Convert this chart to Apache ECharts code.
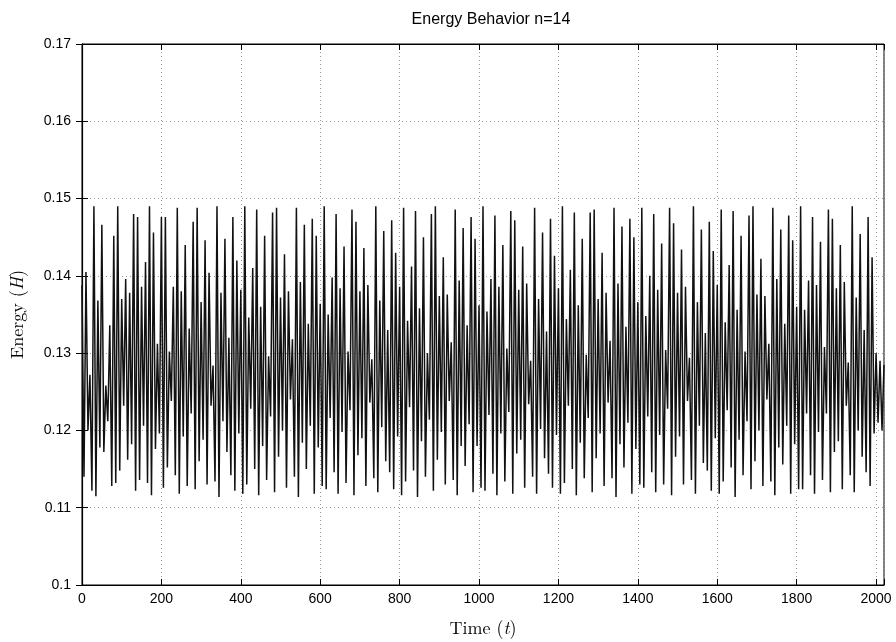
<!DOCTYPE html>
<html>
<head>
<meta charset="utf-8">
<script src="https://cdn.jsdelivr.net/npm/echarts@6/dist/echarts.min.js"></script>
<style>
  html, body { margin: 0; padding: 0; background: #fff; }
  #chart { width: 896px; height: 642px; }
</style>
</head>
<body>
<div id="chart"></div>
<script>
// ---- data ----
const chartTitle = 'Energy Behavior n=14';
const timeStep = 5; // sample spacing in t
const energy = [
  0.1388,0.1140,0.1405,0.1200,0.1272,0.1122,0.1490,0.1115,0.1368,0.1178,0.1466,0.1172,0.1258,0.1212,0.1336,0.1128,0.1452,0.1132,0.1490,0.1148,
  0.1370,0.1232,0.1396,0.1162,0.1378,0.1182,0.1480,0.1122,0.1476,0.1136,0.1386,0.1206,0.1418,0.1132,0.1490,0.1116,0.1456,0.1176,0.1312,0.1196,
  0.1476,0.1126,0.1476,0.1152,0.1302,0.1238,0.1386,0.1142,0.1488,0.1118,0.1380,0.1192,0.1440,0.1128,0.1332,0.1222,0.1470,0.1124,0.1488,0.1160,
  0.1366,0.1188,0.1446,0.1130,0.1404,0.1232,0.1284,0.1134,0.1490,0.1114,0.1378,0.1212,0.1448,0.1172,0.1320,0.1142,0.1476,0.1122,0.1420,0.1196,
  0.1382,0.1118,0.1490,0.1130,0.1346,0.1228,0.1410,0.1150,0.1486,0.1116,0.1360,0.1180,0.1452,0.1136,0.1296,0.1218,0.1482,0.1120,0.1488,0.1166,
  0.1372,0.1200,0.1428,0.1126,0.1380,0.1240,0.1318,0.1140,0.1488,0.1114,0.1392,0.1184,0.1466,0.1150,0.1338,0.1206,0.1474,0.1118,0.1452,0.1178,
  0.1364,0.1128,0.1490,0.1124,0.1350,0.1216,0.1398,0.1146,0.1480,0.1118,0.1384,0.1198,0.1438,0.1132,0.1302,0.1226,0.1486,0.1116,0.1470,0.1168,
  0.1380,0.1190,0.1436,0.1128,0.1388,0.1236,0.1292,0.1138,0.1490,0.1120,0.1368,0.1204,0.1458,0.1160,0.1330,0.1146,0.1472,0.1124,0.1430,0.1192,
  0.1386,0.1116,0.1488,0.1134,0.1342,0.1230,0.1412,0.1148,0.1484,0.1114,0.1358,0.1186,0.1450,0.1140,0.1300,0.1214,0.1480,0.1122,0.1490,0.1162,
  0.1374,0.1198,0.1424,0.1130,0.1376,0.1238,0.1314,0.1136,0.1486,0.1116,0.1394,0.1180,0.1462,0.1154,0.1336,0.1208,0.1476,0.1120,0.1448,0.1180,
  0.1362,0.1126,0.1490,0.1122,0.1354,0.1220,0.1396,0.1144,0.1478,0.1116,0.1386,0.1196,0.1440,0.1134,0.1306,0.1224,0.1484,0.1118,0.1472,0.1170,
  0.1382,0.1188,0.1438,0.1126,0.1390,0.1234,0.1290,0.1140,0.1488,0.1118,0.1370,0.1202,0.1456,0.1164,0.1328,0.1144,0.1474,0.1126,0.1426,0.1194,
  0.1384,0.1118,0.1490,0.1132,0.1344,0.1232,0.1408,0.1150,0.1482,0.1116,0.1362,0.1184,0.1448,0.1138,0.1298,0.1216,0.1482,0.1120,0.1486,0.1164,
  0.1370,0.1196,0.1430,0.1128,0.1378,0.1236,0.1316,0.1138,0.1488,0.1114,0.1390,0.1182,0.1464,0.1152,0.1334,0.1210,0.1474,0.1118,0.1450,0.1176,
  0.1366,0.1130,0.1488,0.1126,0.1348,0.1218,0.1400,0.1146,0.1480,0.1120,0.1382,0.1194,0.1442,0.1130,0.1304,0.1228,0.1488,0.1116,0.1468,0.1166,
  0.1378,0.1192,0.1434,0.1130,0.1386,0.1238,0.1294,0.1136,0.1490,0.1118,0.1366,0.1206,0.1460,0.1158,0.1326,0.1148,0.1470,0.1122,0.1432,0.1190,
  0.1388,0.1118,0.1486,0.1134,0.1340,0.1226,0.1414,0.1152,0.1484,0.1114,0.1356,0.1188,0.1452,0.1142,0.1302,0.1212,0.1478,0.1124,0.1490,0.1160,
  0.1376,0.1200,0.1422,0.1128,0.1374,0.1240,0.1312,0.1134,0.1488,0.1116,0.1396,0.1178,0.1460,0.1156,0.1338,0.1206,0.1478,0.1118,0.1446,0.1182,
  0.1360,0.1124,0.1490,0.1124,0.1356,0.1222,0.1394,0.1142,0.1476,0.1118,0.1388,0.1198,0.1444,0.1136,0.1308,0.1222,0.1486,0.1120,0.1474,0.1172,
  0.1384,0.1186,0.1440,0.1124,0.1392,0.1232,0.1288,0.1142,0.1490,0.1120,0.1372,0.1200,0.1454,0.1166,0.1330,0.1146,0.1476,0.1128,0.1424,0.1196,
  0.1300,0.1210,0.1290,0.1200,0.1285
];
const xTicks = [0, 200, 400, 600, 800, 1000, 1200, 1400, 1600, 1800, 2000];
const yTicks = [0.1, 0.11, 0.12, 0.13, 0.14, 0.15, 0.16, 0.17];
const xMin = 0, xMax = 2020, xInterval = 200;
const yMin = 0.1, yMax = 0.17, yInterval = 0.01;

// ---- chart ----
const seriesData = energy.map((v, i) => [i * timeStep, v]);
const chart = echarts.init(document.getElementById('chart'), null, { renderer: 'canvas' });
const labelFont = '"Liberation Sans", Arial, Helvetica, sans-serif';
const serif = '"Latin Modern Roman", "CMU Serif", "DejaVu Serif", "Liberation Serif", serif';
const gridLine = { show: true, lineStyle: { color: '#9a9a9a', type: [1, 3], width: 1 } };

chart.setOption({
  animation: false,
  backgroundColor: '#fff',
  title: {
    text: chartTitle, left: 486, top: 7, textAlign: 'center',
    textStyle: { fontFamily: labelFont, fontSize: 16, fontWeight: 'normal', color: '#000' }
  },
  grid: { left: 81, right: 12, top: 44, bottom: 55, show: true, borderColor: '#000', borderWidth: 1, backgroundColor: 'transparent' },
  xAxis: [{
    type: 'value', min: xMin, max: xMax, interval: xInterval,
    axisLine: { show: true, lineStyle: { color: '#000', width: 1.2 } },
    axisTick: { show: true, inside: true, length: 6, lineStyle: { color: '#000' } },
    axisLabel: {
      color: '#000', fontFamily: labelFont, fontSize: 14, margin: 7, showMaxLabel: true,
      formatter: v => (xTicks.indexOf(v) >= 0 ? String(v) : '')
    },
    splitLine: gridLine,
    name: '{n|Time (}{i|t}{n|)}', nameLocation: 'middle', nameGap: 34,
    nameTextStyle: { rich: {
      n: { fontFamily: serif, fontSize: 18, color: '#000' },
      i: { fontFamily: serif, fontSize: 18, fontStyle: 'italic', color: '#000' }
    } }
  }, {
    type: 'value', min: xMin, max: xMax, interval: xInterval, position: 'top',
    axisLine: { show: true, lineStyle: { color: '#000', width: 1 } },
    axisTick: { show: true, inside: true, length: 6, lineStyle: { color: '#000' } },
    axisLabel: { show: false }, splitLine: { show: false }
  }],
  yAxis: [{
    type: 'value', min: yMin, max: yMax, interval: yInterval,
    axisLine: { show: true, lineStyle: { color: '#000', width: 1.2 } },
    axisTick: { show: true, inside: true, length: 6, lineStyle: { color: '#000' } },
    axisLabel: {
      color: '#000', fontFamily: labelFont, fontSize: 14, margin: 11,
      formatter: v => String(+v.toFixed(2))
    },
    splitLine: gridLine,
    name: '{n|Energy (}{i|H}{n|)}', nameLocation: 'middle', nameGap: 56, nameRotate: 90,
    nameTextStyle: { rich: {
      n: { fontFamily: serif, fontSize: 18, color: '#000' },
      i: { fontFamily: serif, fontSize: 18, fontStyle: 'italic', color: '#000' }
    } }
  }, {
    type: 'value', min: yMin, max: yMax, interval: yInterval, position: 'right',
    axisLine: { show: true, lineStyle: { color: '#000', width: 1 } },
    axisTick: { show: true, inside: true, length: 6, lineStyle: { color: '#000' } },
    axisLabel: { show: false }, splitLine: { show: false }
  }],
  series: [{
    type: 'line', xAxisIndex: 0, yAxisIndex: 0, data: seriesData,
    showSymbol: false, symbol: 'none',
    lineStyle: { color: '#111', width: 1.5 },
    clip: true
  }]
});
</script>
</body>
</html>
